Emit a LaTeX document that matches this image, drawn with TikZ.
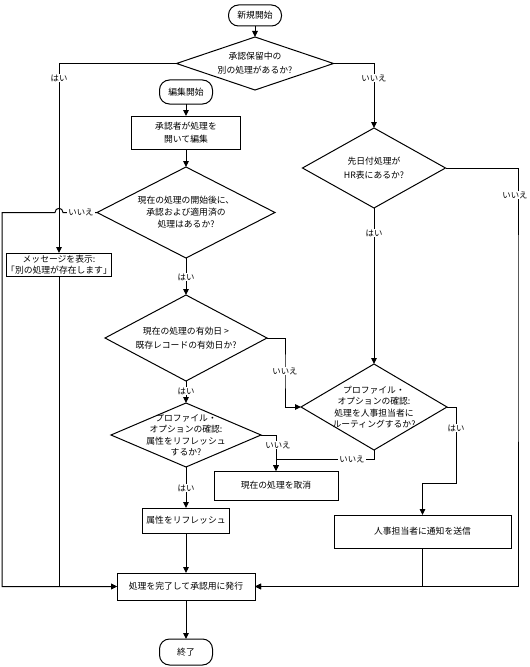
\documentclass[tikz,border=0pt]{standalone}
\usepackage{fontspec}
\setmainfont{Noto Sans CJK JP}
\usetikzlibrary{shapes.geometric,arrows.meta}
\newdimen\upx \upx=0.75pt
\begin{document}
\begin{tikzpicture}[x=0.75pt,y=-0.75pt,
  every node/.style={font=\fontsize{6.6}{9}\selectfont},
  line/.style={draw=black,line width=0.75pt},
  arr/.style={line,-{Triangle[length=4.5pt,width=4.2pt]}},
  term/.style={draw,line width=0.75pt,rounded corners=10\upx,minimum width=53\upx,inner sep=0pt,outer sep=0pt},
  box/.style={draw,line width=0.75pt,inner sep=0pt,outer sep=0pt,align=center},
  dia/.style={draw,diamond,line width=0.75pt,inner sep=0pt,outer sep=0pt},
  dtext/.style={align=center,inner sep=0pt},
  lab/.style={fill=white,inner sep=1\upx,font=\fontsize{6.3}{8}\selectfont}
]
\useasboundingbox (0,0) rectangle (529,667);

% nodes
\node[term,minimum height=21\upx] (start) at (255,15.5) {新規開始};
\node[dia,minimum width=157\upx,minimum height=53\upx,
  label={[dtext,font=\fontsize{6.6}{10.5}\selectfont]center:{承認保留中の\\別の処理があるか?}}] (d1) at (255,63.5) {};
\node[term,minimum height=24\upx] (edit) at (186,92) {編集開始};
\node[box,minimum width=109\upx,minimum height=33\upx,font=\fontsize{6.6}{9.75}\selectfont] (box1) at (186,132.5) {承認者が処理を\\開いて編集};
\node[dia,minimum width=178\upx,minimum height=91\upx,
  label={[dtext]center:{現在の処理の開始後に、\\承認および適用済の\\処理はあるか?}}] (d3) at (186,212.5) {};
\node[box,minimum width=102\upx,minimum height=23\upx,font=\fontsize{6.6}{8.2}\selectfont] (msg) at (59,264.5) {メッセージを表示:\\「別の処理が存在します」};
\node[dia,minimum width=162\upx,minimum height=86\upx,
  label={[dtext,font=\fontsize{6.6}{10.5}\selectfont]center:{現在の処理の有効日 >\\既存レコードの有効日か?}}] (d4) at (186,338) {};
\node[dia,minimum width=150\upx,minimum height=64\upx,
  label={[dtext,font=\fontsize{6.6}{8.6}\selectfont]center:{プロファイル・\\オプションの確認:\\属性をリフレッシュ\\するか?}}] (d6) at (186,435) {};
\node[box,minimum width=124\upx,minimum height=29\upx] (cancel) at (276,485.5) {現在の処理を取消};
\node[box,minimum width=87\upx,minimum height=25\upx] (refresh) at (186,520.5) {属性をリフレッシュ};
\node[box,minimum width=138\upx,minimum height=27\upx] (final) at (186,586.5) {処理を完了して承認用に発行};
\node[term,minimum height=26\upx] (end) at (186,652) {終了};
\node[dia,minimum width=143\upx,minimum height=80\upx,
  label={[dtext,font=\fontsize{6.6}{10.5}\selectfont]center:{先日付処理が\\HR表にあるか?}}] (d2) at (374,168) {};
\node[dia,minimum width=146\upx,minimum height=86\upx,
  label={[dtext,font=\fontsize{6.6}{8.6}\selectfont]center:{プロファイル・\\オプションの確認:\\処理を人事担当者に\\ルーティングするか?}}] (d5) at (374,407) {};
\node[box,minimum width=177\upx,minimum height=33\upx] (notify) at (422.5,531.5) {人事担当者に通知を送信};

% helper coordinates
\coordinate (h1) at (63,212.5);
\coordinate (h2) at (55,212.5);
\coordinate (k5) at (2,212.5);
\coordinate (k1) at (285,370);
\coordinate (k2) at (276,459);
\coordinate (k3) at (456,483);
\coordinate (k4) at (518,300);

% connectors
\draw[arr] (start.south) -- (d1.north);
\draw[arr] (d1.west) -| (msg.north);
\draw[arr] (d1.east) -| (d2.north);
\draw[arr] (edit.south) -- (box1.north);
\draw[arr] (box1.south) -- (d3.north);
\draw[arr] (d3.west) -- (h1) .. controls +(0,-5.5) and +(0,-5.5) .. (h2) -- (k5) |- (final.west);
\draw[arr] (msg.south) |- (final.west);
\draw[arr] (d3.south) -- (d4.north);
\draw[arr] (d4.east) -| (k1) |- (d5.west);
\draw[arr] (d4.south) -- (d6.north);
\draw[arr] (d6.east) -| (cancel.north);
\draw[arr] (d5.south) |- (k2) -- (cancel.north);
\draw[arr] (d6.south) -- (refresh.north);
\draw[arr] (d5.east) -| (k3) -| (notify.north);
\draw[arr] (d2.east) -| (k4) |- (final.east);
\draw[arr] (notify.south) |- (final.east);
\draw[arr] (d2.south) -- (d5.north);
\draw[arr] (refresh.south) -- (final.north);
\draw[arr] (final.south) -- (end.north);

% branch labels
\node[lab] (l1) at (59,78) {はい};
\node[lab] (l2) at (374,78) {いいえ};
\node[lab] (l3) at (81,212.5) {いいえ};
\node[lab] (l4) at (186,277) {はい};
\node[lab] (l5) at (186,391) {はい};
\node[lab] (l6) at (186,488) {はい};
\node[lab] (l7) at (285,371) {いいえ};
\node[lab] (l8) at (278,445) {いいえ};
\node[lab] (l9) at (352,459) {いいえ};
\node[lab] (l10) at (374,233) {はい};
\node[lab] (l11) at (456,428) {はい};
\node[lab] (l12) at (515,195) {いいえ};
\end{tikzpicture}
\end{document}
